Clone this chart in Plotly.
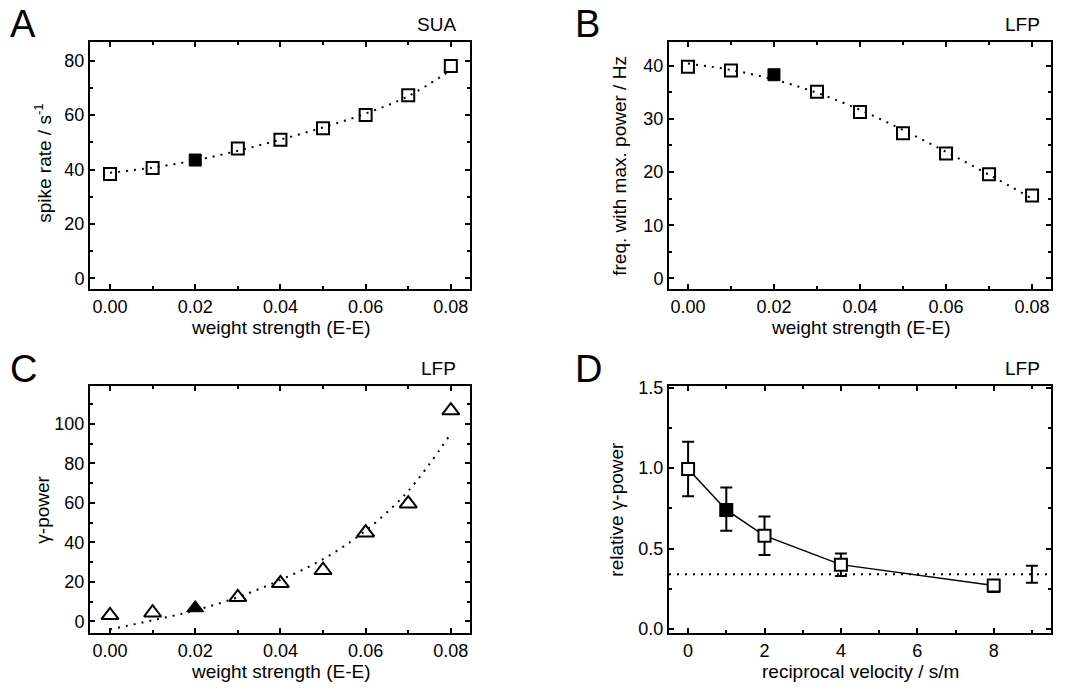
import plotly.graph_objects as go

# ---------------- data ----------------
weight = [0.00, 0.01, 0.02, 0.03, 0.04, 0.05, 0.06, 0.07, 0.08]
highlight_idx = 2  # filled marker (weight 0.02)

spike_rate = [38.4, 40.6, 43.5, 47.7, 51.0, 55.2, 60.1, 67.3, 78.1]
spike_rate_fit = [38.8, 40.7, 43.4, 46.9, 51.0, 55.5, 60.6, 67.0, 76.6]

peak_freq = [39.8, 39.1, 38.3, 35.1, 31.3, 27.3, 23.5, 19.6, 15.6]
peak_freq_fit = [40.4, 39.2, 37.4, 34.9, 31.7, 27.9, 23.8, 19.5, 15.0]

gamma_power = [3.1, 4.4, 6.8, 12.2, 19.3, 25.9, 44.9, 59.6, 106.7]
gamma_power_fit = [-4.0, 0.6, 5.6, 12.3, 21.0, 31.5, 46.0, 66.0, 95.0]

recip_velocity = [0, 1, 2, 4, 8]
rel_gamma = [0.995, 0.74, 0.58, 0.40, 0.27]
rel_gamma_err_plus = [0.17, 0.14, 0.12, 0.07, 0.03]
rel_gamma_err_minus = [0.17, 0.13, 0.12, 0.07, 0.04]
rel_gamma_filled_idx = 1

baseline_x = [9]
baseline_mean = [0.340]
baseline_err = [0.053]

# ---------------- layout helpers ----------------
W, H = 1067, 693
FONT = "Liberation Sans, Arial, sans-serif"

def xd(a, b):
    return [a / W, b / W]

def yd(top, bottom):
    return [1 - bottom / H, 1 - top / H]

panels = {
    "A": dict(x=xd(90, 470), y=yd(35, 287)),
    "B": dict(x=xd(669, 1051), y=yd(35, 287)),
    "C": dict(x=xd(90, 470), y=yd(386, 638)),
    "D": dict(x=xd(669, 1051), y=yd(386, 638)),
}

fig = go.Figure()

def axis_common():
    return dict(
        showline=True, linecolor="black", linewidth=2, mirror="allticks",
        ticks="inside", ticklen=5, tickwidth=1.5, tickcolor="black",
        showgrid=False, zeroline=False,
        tickfont=dict(family=FONT, size=18, color="black"),
    )

def dotted(xs, ys, xa, ya):
    fig.add_trace(go.Scatter(x=xs, y=ys, mode="lines", xaxis=xa, yaxis=ya,
                             line=dict(color="black", width=2, dash="2px,6px", shape="spline"),
                             hoverinfo="skip", showlegend=False))

def markers(xs, ys, xa, ya, symbol_open, symbol_filled, size, hl):
    xo = [x for i, x in enumerate(xs) if i != hl]
    yo = [y for i, y in enumerate(ys) if i != hl]
    fig.add_trace(go.Scatter(x=xo, y=yo, mode="markers", xaxis=xa, yaxis=ya,
                             marker=dict(symbol=symbol_open, size=size, color="black",
                                         line=dict(color="black", width=2)),
                             showlegend=False))
    fig.add_trace(go.Scatter(x=[xs[hl]], y=[ys[hl]], mode="markers", xaxis=xa, yaxis=ya,
                             marker=dict(symbol=symbol_filled, size=size, color="black",
                                         line=dict(color="black", width=1)),
                             showlegend=False))

# Panel A
dotted(weight, spike_rate_fit, "x", "y")
markers(weight, spike_rate, "x", "y", "square-open", "square", 12, highlight_idx)
# Panel B
dotted(weight, peak_freq_fit, "x2", "y2")
markers(weight, peak_freq, "x2", "y2", "square-open", "square", 12, highlight_idx)
# Panel C
dotted(weight, gamma_power_fit, "x3", "y3")
markers(weight, gamma_power, "x3", "y3", "triangle-up-open", "triangle-up", 15, highlight_idx)

# Panel D
fig.add_trace(go.Scatter(x=baseline_x, y=baseline_mean, mode="markers", xaxis="x4", yaxis="y4",
                         marker=dict(size=1, color="rgba(0,0,0,0)"),
                         error_y=dict(type="data", array=baseline_err, color="black",
                                      thickness=2, width=6),
                         showlegend=False))
fig.add_trace(go.Scatter(x=recip_velocity, y=rel_gamma, mode="lines+markers", xaxis="x4", yaxis="y4",
                         line=dict(color="black", width=1.5),
                         marker=dict(symbol="square", size=12, color="white",
                                     line=dict(color="black", width=2)),
                         error_y=dict(type="data", symmetric=False, array=rel_gamma_err_plus,
                                      arrayminus=rel_gamma_err_minus, color="black",
                                      thickness=2, width=6),
                         showlegend=False))
fig.add_trace(go.Scatter(x=[recip_velocity[rel_gamma_filled_idx]], y=[rel_gamma[rel_gamma_filled_idx]],
                         mode="markers", xaxis="x4", yaxis="y4",
                         marker=dict(symbol="square", size=12, color="black",
                                     line=dict(color="black", width=1)),
                         showlegend=False))
fig.add_shape(type="line", xref="x4 domain", yref="y4", x0=0, x1=1,
              y0=baseline_mean[0], y1=baseline_mean[0],
              line=dict(color="black", width=2, dash="2px,6px"), layer="below")

wx = dict(range=[-0.0047, 0.0845], tickvals=[0, 0.02, 0.04, 0.06, 0.08], tickformat=".2f",
          minor=dict(dtick=0.01, tick0=0, ticks="inside", ticklen=3, tickwidth=1.5, tickcolor="black"))

lay = {}
lay["xaxis"] = dict(axis_common(), domain=panels["A"]["x"], anchor="y", **wx)
lay["yaxis"] = dict(axis_common(), domain=panels["A"]["y"], anchor="x", range=[-4.0, 86.8], dtick=20,
                    minor=dict(dtick=10, ticks="inside", ticklen=3, tickwidth=1.5, tickcolor="black"))
wx2 = dict(wx, range=[-0.0044, 0.0844])
lay["xaxis2"] = dict(axis_common(), domain=panels["B"]["x"], anchor="y2", **wx2)
lay["yaxis2"] = dict(axis_common(), domain=panels["B"]["y"], anchor="x2", range=[-2.03, 44.4], dtick=10,
                     minor=dict(dtick=5, ticks="inside", ticklen=3, tickwidth=1.5, tickcolor="black"))
lay["xaxis3"] = dict(axis_common(), domain=panels["C"]["x"], anchor="y3", **wx)
lay["yaxis3"] = dict(axis_common(), domain=panels["C"]["y"], anchor="x3", range=[-5.9, 119], dtick=20,
                     minor=dict(dtick=10, ticks="inside", ticklen=3, tickwidth=1.5, tickcolor="black"))
lay["xaxis4"] = dict(axis_common(), domain=panels["D"]["x"], anchor="y4", range=[-0.5, 9.5], dtick=2,
                     tick0=0, minor=dict(dtick=1, ticks="inside", ticklen=3, tickwidth=1.5, tickcolor="black"))
lay["yaxis4"] = dict(axis_common(), domain=panels["D"]["y"], anchor="x4", range=[-0.026, 1.51], dtick=0.5,
                     tickformat=".1f",
                     minor=dict(dtick=0.25, ticks="inside", ticklen=3, tickwidth=1.5, tickcolor="black"))

fig.update_layout(**lay)

ann = []
def text(t, x, y, size=19, xanchor="center", yanchor="middle", angle=0):
    ann.append(dict(text=t, x=x / W, y=1 - y / H, xref="paper", yref="paper", showarrow=False,
                    xanchor=xanchor, yanchor=yanchor, textangle=angle,
                    font=dict(family=FONT, size=size, color="black")))

# panel letters
text("A", 8, 16, size=38, xanchor="left")
text("B", 573, 16, size=38, xanchor="left")
text("C", 8, 368, size=38, xanchor="left")
text("D", 573, 368, size=38, xanchor="left")
# labels
text("SUA", 458, 17, xanchor="right")
text("LFP", 1042, 17, xanchor="right")
text("LFP", 458, 368, xanchor="right")
text("LFP", 1042, 368, xanchor="right")
# x titles
text("weight strength (E-E)", 280, 326)
text("weight strength (E-E)", 860, 326)
text("weight strength (E-E)", 280, 677)
text("reciprocal velocity / s/m", 860, 677)
# y titles
text("spike rate / s<sup>-1</sup>", 43, 158, angle=-90)
text("freq. with max. power / Hz", 620, 161, angle=-90)
text("γ-power", 43, 512, angle=-90)
text("relative γ-power", 617, 512, angle=-90)

fig.update_layout(annotations=ann, width=W, height=H, margin=dict(l=0, r=0, t=0, b=0),
                  paper_bgcolor="white", plot_bgcolor="white", showlegend=False,
                  font=dict(family=FONT, color="black"))

fig.write_html("out.html")
